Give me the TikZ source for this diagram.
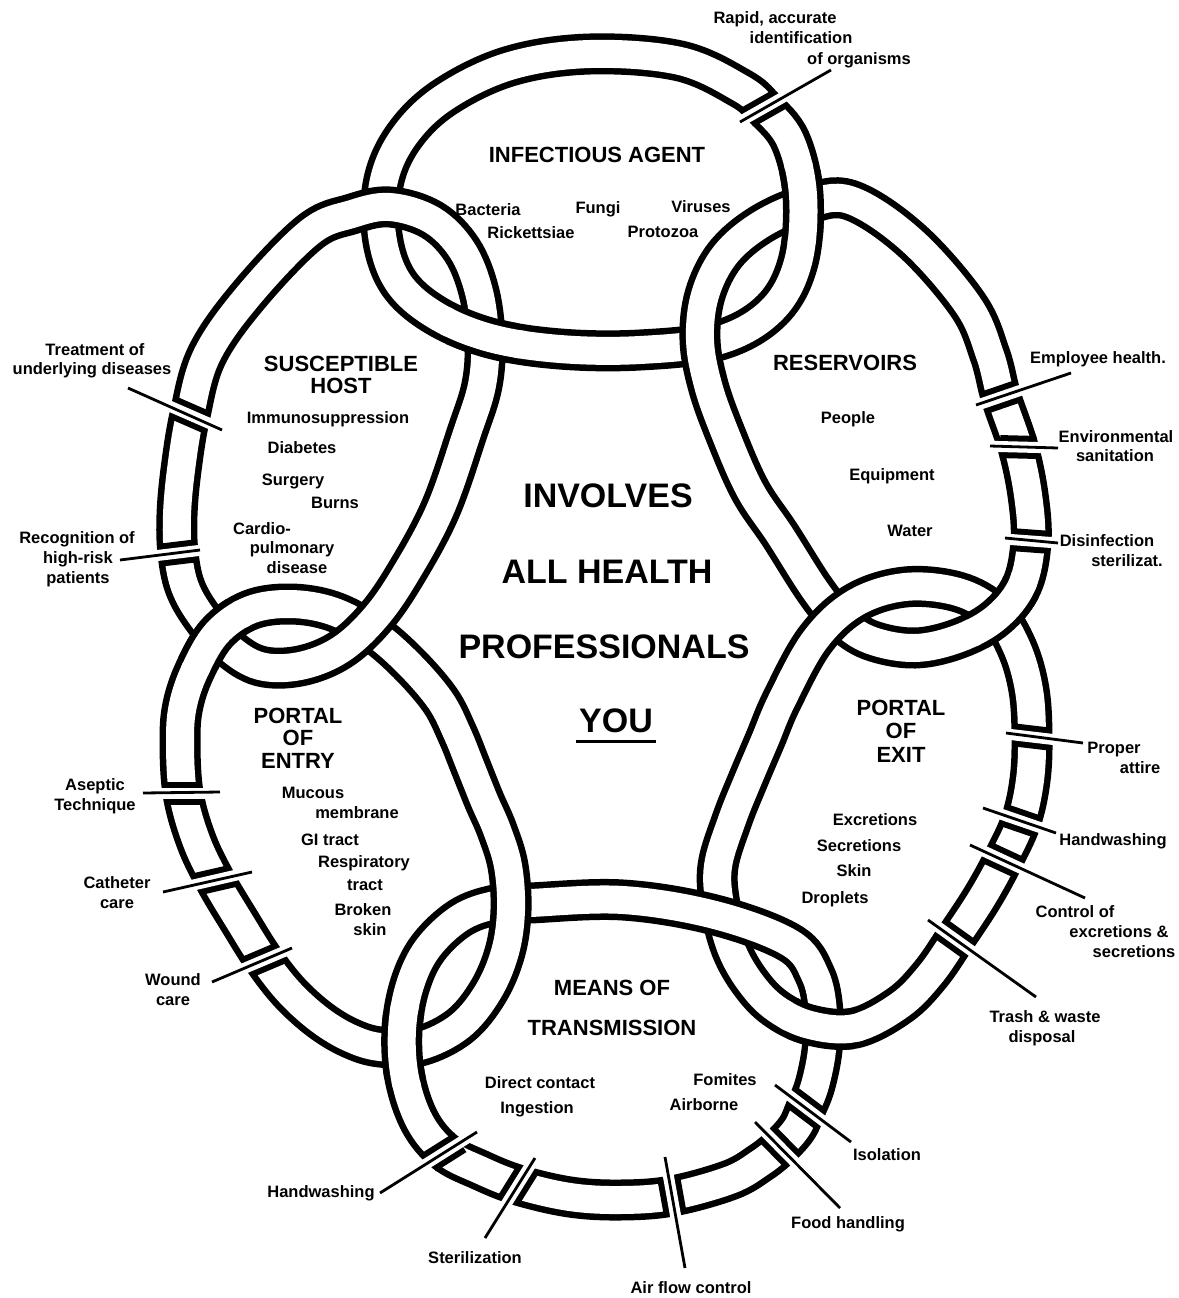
\documentclass[tikz,border=0pt]{standalone}
\usepackage{fontspec}
\setmainfont{Liberation Sans}
\usetikzlibrary{calc}
\begin{document}
\begin{tikzpicture}[x=1pt,y=-1pt,
  ring/.style={draw=black, line width=6.5pt, double=white, double distance=28pt},
  ringB/.style={draw=black, line width=41pt},
  ringW/.style={draw=white, line width=28pt},
  lbl/.style={font=\fontsize{16.5}{18}\selectfont\bfseries, inner sep=0pt, text height=11.8pt, text depth=0pt},
  ttl/.style={font=\fontsize{22}{26}\selectfont\bfseries, inner sep=0pt, text height=15.8pt, text depth=0pt},
  big/.style={font=\fontsize{34}{40}\selectfont\bfseries, inner sep=0pt, text height=24.4pt, text depth=0pt},
  lline/.style={line width=2.8pt}]
\useasboundingbox (0,0) rectangle (1178,1298);
\fill[white] (0,0) rectangle (1178,1298);

\def\ringIA{plot[smooth cycle, tension=0.6] coordinates {(590,54) (680,61) (740,88) (764,108) (790,140) (803,195) (798,262) (772,310) (720,340) (640,350) (560,349) (490,338) (435,315) (398,282) (382,235) (384,180) (405,135) (445,97) (510,66)}}
\def\ringRS{plot[smooth cycle, tension=0.6] coordinates {(850,200) (911,240) (968,305) (990,355) (1001,397) (1018,447) (1028,495) (1031,541) (1022,585) (997,617) (960,638) (915,648) (870,640) (840,620) (815,590) (780,535) (750,490) (725,433) (708,385) (700,340) (705,295) (725,255) (760,225) (805,205)}}
\def\ringPX{plot[smooth cycle, tension=0.6] coordinates {(782,700) (815,640) (855,603) (905,587) (958,592) (995,613) (1017,648) (1029,690) (1032,737) (1030,780) (1021,821) (1003,860) (982,898) (955,939) (930,975) (900,1005) (855,1028) (810,1025) (775,1008) (750,982) (731,948) (720,905) (718,866) (732,820) (748,780) (765,740)}}
\def\ringMT{plot[smooth cycle, tension=0.6] coordinates {(530,903) (623,900) (715,915) (790,943) (815,975) (823,1012) (822,1050) (815,1085) (806,1108) (797,1128) (780,1147) (760,1163) (730,1180) (672,1196) (620,1200) (570,1197) (518,1185) (480,1170) (445,1152) (420,1122) (405,1078) (402,1030) (410,985) (428,948) (460,918) (495,905)}}
\def\ringPE{plot[smooth cycle, tension=0.6] coordinates {(180,740) (183,793) (196,840) (215,880) (240,922) (264,960) (290,993) (320,1020) (350,1038) (380,1047) (420,1046) (460,1026) (488,992) (505,952) (511,910) (508,866) (497,830) (484,800) (470,765) (457,733) (440,700) (408,663) (372,632) (332,611) (290,604) (250,610) (217,633) (195,670) (183,705)}}
\def\ringSH{plot[smooth cycle, tension=0.6] coordinates {(390,207) (432,220) (462,250) (479,292) (485,340) (482,385) (467,433) (440,510) (405,575) (375,618) (340,650) (300,666) (260,666) (228,647) (202,617) (185,587) (178,553) (177,515) (181,470) (190,415) (207,355) (249,295) (310,232) (352,214)}}

% rings
\draw[ring] \ringIA;
\draw[ring] \ringRS;
\draw[ring] \ringPX;
\draw[ring] \ringMT;
\draw[ring] \ringPE;
\draw[ring] \ringSH;

% crossings where the earlier ring lies on top
\newcommand{\overat}[2]{%
  \begin{scope}\clip (#1) circle (38pt); \draw[ringB] #2; \end{scope}
  \begin{scope}\clip (#1) circle (43pt); \draw[ringW] #2; \end{scope}
}
\coordinate (x1) at (803,203);
\coordinate (x2) at (1005,614);
\coordinate (x3) at (823,1027);
\coordinate (x4) at (404,1046);
\coordinate (x5) at (208,633);
\coordinate (x6) at (483,335);
\overat{x1}{\ringIA}
\overat{x2}{\ringRS}
\overat{x3}{\ringPX}
\overat{x4}{\ringMT}
\overat{x5}{\ringPE}
\overat{x6}{\ringIA}

\newcommand{\mybrk}[3]{%
  \draw[line width=23pt] ($(#1)!18pt!(#3)$) -- ($(#1)!-18pt!(#3)$);
  \draw[white, line width=11pt] ($(#1)!26pt!(#3)$) -- ($(#1)!-26pt!(#3)$);
  \draw[lline] (#2) -- (#3);
}
% break points (p), inner ends (i), outer ends (q)
\coordinate (p1) at (764,108);  \coordinate (i1) at (740,122);  \coordinate (q1) at (831,70);
\coordinate (p2) at (1001,397); \coordinate (i2) at (976,405);  \coordinate (q2) at (1071,373);
\coordinate (p3) at (1018,447); \coordinate (i3) at (990,446);  \coordinate (q3) at (1058,448);
\coordinate (p4) at (1031,541); \coordinate (i4) at (1005,538); \coordinate (q4) at (1058,543);
\coordinate (p5) at (190,415);  \coordinate (i5) at (222,430);  \coordinate (q5) at (128,388);
\coordinate (p6) at (178,553);  \coordinate (i6) at (200,550);  \coordinate (q6) at (120,560);
\coordinate (p7) at (183,793);  \coordinate (i7) at (220,792);  \coordinate (q7) at (143,793);
\coordinate (p8) at (215,880);  \coordinate (i8) at (252,872);  \coordinate (q8) at (163,892);
\coordinate (p9) at (264,960);  \coordinate (i9) at (292,948);  \coordinate (q9) at (212,982);
\coordinate (p10) at (445,1152); \coordinate (i10) at (477,1132); \coordinate (q10) at (380,1193);
\coordinate (p11) at (518,1185); \coordinate (i11) at (535,1158); \coordinate (q11) at (485,1238);
\coordinate (p12) at (672,1196); \coordinate (i12) at (665,1157); \coordinate (q12) at (685,1268);
\coordinate (p13) at (806,1108); \coordinate (i13) at (775,1085); \coordinate (q13) at (851,1142);
\coordinate (p14) at (780,1147); \coordinate (i14) at (755,1122); \coordinate (q14) at (840,1208);
\coordinate (p15) at (1032,737); \coordinate (i15) at (1006,733); \coordinate (q15) at (1083,743);
\coordinate (p16) at (1021,821); \coordinate (i16) at (983,808);  \coordinate (q16) at (1056,833);
\coordinate (p17) at (1003,860); \coordinate (i17) at (970,845);  \coordinate (q17) at (1085,898);
\coordinate (p18) at (955,939);  \coordinate (i18) at (928,920);  \coordinate (q18) at (1036,997);
\mybrk{p1}{i1}{q1}
\mybrk{p2}{i2}{q2}
\mybrk{p3}{i3}{q3}
\mybrk{p4}{i4}{q4}
\mybrk{p5}{i5}{q5}
\mybrk{p6}{i6}{q6}
\mybrk{p7}{i7}{q7}
\mybrk{p8}{i8}{q8}
\mybrk{p9}{i9}{q9}
\mybrk{p10}{i10}{q10}
\mybrk{p11}{i11}{q11}
\mybrk{p12}{i12}{q12}
\mybrk{p13}{i13}{q13}
\mybrk{p14}{i14}{q14}
\mybrk{p15}{i15}{q15}
\mybrk{p16}{i16}{q16}
\mybrk{p17}{i17}{q17}
\mybrk{p18}{i18}{q18}

% ring texts
\node[ttl] (tIA) at (597,155) {INFECTIOUS AGENT};
\node[lbl] (bac) at (488,210) {Bacteria};
\node[lbl] (fun) at (598,208) {Fungi};
\node[lbl] (vir) at (701,207) {Viruses};
\node[lbl] (ric) at (531,233) {Rickettsiae};
\node[lbl] (pro) at (663,232) {Protozoa};

\node[ttl] (tSH1) at (341,364) {SUSCEPTIBLE};
\node[ttl] (tSH2) at (341,386) {HOST};
\node[lbl] (imm) at (328,418) {Immunosuppression};
\node[lbl] (dia) at (302,448) {Diabetes};
\node[lbl] (sur) at (293,480) {Surgery};
\node[lbl] (bur) at (335,503) {Burns};
\node[lbl] (car1) at (262,529) {Cardio-};
\node[lbl] (car2) at (292,548) {pulmonary};
\node[lbl] (car3) at (297,568) {disease};

\node[ttl] (tRS) at (845,363) {RESERVOIRS};
\node[lbl] (peo) at (848,418) {People};
\node[lbl] (equ) at (892,475) {Equipment};
\node[lbl] (wat) at (910,531) {Water};

\node[ttl] (tPE1) at (298,716) {PORTAL};
\node[ttl] (tPE2) at (298,738) {OF};
\node[ttl] (tPE3) at (298,761) {ENTRY};
\node[lbl] (muc1) at (313,793) {Mucous};
\node[lbl] (muc2) at (357,813) {membrane};
\node[lbl] (git) at (330,840) {GI tract};
\node[lbl] (res1) at (364,862) {Respiratory};
\node[lbl] (res2) at (365,885) {tract};
\node[lbl] (bro1) at (363,910) {Broken};
\node[lbl] (bro2) at (370,930) {skin};

\node[ttl] (tPX1) at (901,708) {PORTAL};
\node[ttl] (tPX2) at (901,731) {OF};
\node[ttl] (tPX3) at (901,755) {EXIT};
\node[lbl] (exc) at (875,820) {Excretions};
\node[lbl] (sec) at (859,846) {Secretions};
\node[lbl] (ski) at (854,871) {Skin};
\node[lbl] (dro) at (835,898) {Droplets};

\node[ttl] (tMT1) at (612,988) {MEANS OF};
\node[ttl] (tMT2) at (612,1028) {TRANSMISSION};
\node[lbl] (dir) at (540,1083) {Direct contact};
\node[lbl] (ing) at (537,1108) {Ingestion};
\node[lbl] (fom) at (725,1080) {Fomites};
\node[lbl] (air) at (704,1105) {Airborne};

% centre
\node[big] (c1) at (608,495) {INVOLVES};
\node[big] (c2) at (607,571) {ALL HEALTH};
\node[big] (c3) at (604,646) {PROFESSIONALS};
\node[big] (c4) at (616,720) {YOU};
\draw[line width=3.5pt] ($(c4.south west)+(-3,9)$) -- ($(c4.south east)+(3,9)$);

% outer labels
\node[lbl] (o1a) at (775,18) {Rapid, accurate};
\node[lbl] (o1b) at (801,38) {identification};
\node[lbl] (o1c) at (859,59) {of organisms};
\node[lbl] (o2) at (1098,358) {Employee health.};
\node[lbl] (o3a) at (1116,437) {Environmental};
\node[lbl] (o3b) at (1115,456) {sanitation};
\node[lbl] (o4a) at (1107,541) {Disinfection};
\node[lbl] (o4b) at (1127,561) {sterilizat.};
\node[lbl] (o5a) at (95,350) {Treatment of};
\node[lbl] (o5b) at (92,369) {underlying diseases};
\node[lbl] (o6a) at (77,538) {Recognition of};
\node[lbl] (o6b) at (78,558) {high-risk};
\node[lbl] (o6c) at (78,578) {patients};
\node[lbl] (o7a) at (95,785) {Aseptic};
\node[lbl] (o7b) at (95,805) {Technique};
\node[lbl] (o8a) at (117,883) {Catheter};
\node[lbl] (o8b) at (117,903) {care};
\node[lbl] (o9a) at (173,980) {Wound};
\node[lbl] (o9b) at (173,1000) {care};
\node[lbl] (o10) at (321,1192) {Handwashing};
\node[lbl] (o11) at (475,1258) {Sterilization};
\node[lbl] (o12) at (691,1288) {Air flow control};
\node[lbl] (o13) at (887,1155) {Isolation};
\node[lbl] (o14) at (848,1223) {Food handling};
\node[lbl] (o15a) at (1114,748) {Proper};
\node[lbl] (o15b) at (1140,768) {attire};
\node[lbl] (o16) at (1113,840) {Handwashing};
\node[lbl] (o17a) at (1075,912) {Control of};
\node[lbl] (o17b) at (1119,932) {excretions \&};
\node[lbl] (o17c) at (1134,952) {secretions};
\node[lbl] (o18a) at (1045,1017) {Trash \& waste};
\node[lbl] (o18b) at (1042,1037) {disposal};
\end{tikzpicture}
\end{document}
